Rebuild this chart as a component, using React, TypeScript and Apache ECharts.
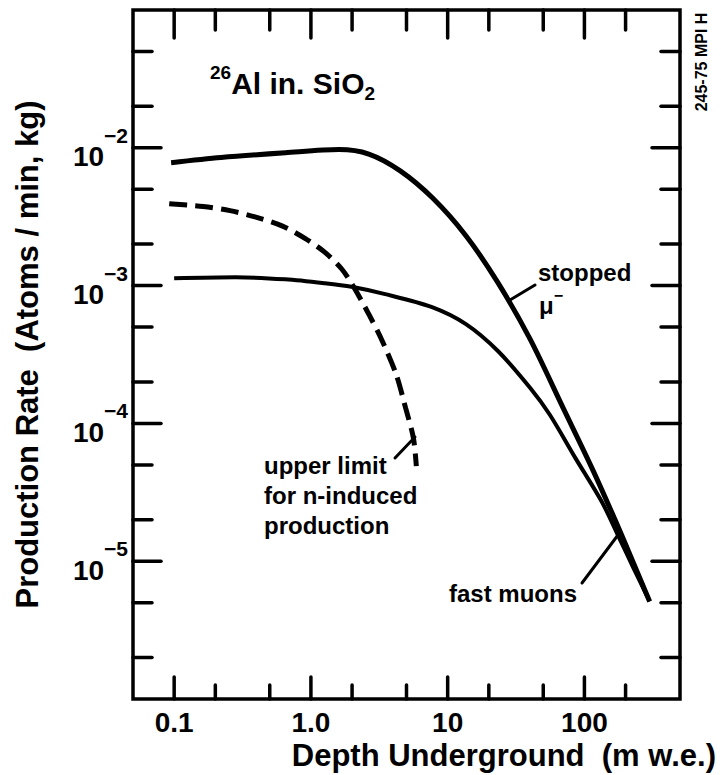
import React, { useEffect, useRef } from "react";
import * as echarts from "echarts";

// Production rate of 26Al in SiO2 versus depth underground
const depthStopped = [0.095, 0.22, 0.65, 1.6, 2.65, 4.5, 7.8, 13.6, 23.3, 40, 70, 114, 166, 196, 300];
const rateStopped = [7.8e-3, 8.5e-3, 9.2e-3, 9.7e-3, 9.0e-3, 6.8e-3, 4.3e-3, 2.3e-3, 1.05e-3, 4.1e-4, 1.29e-4, 4.7e-5, 2.04e-5, 1.39e-5, 5.1e-6];

const depthFast = [0.1, 0.28, 0.65, 1.26, 1.98, 3.43, 7.6, 13.6, 23.4, 40.3, 55.7, 86, 134, 175, 230, 300];
const rateFast = [1.13e-3, 1.15e-3, 1.11e-3, 1.04e-3, 9.8e-4, 8.7e-4, 7.0e-4, 5.25e-4, 3.34e-4, 1.8e-4, 1.16e-4, 5.6e-5, 2.7e-5, 1.56e-5, 8.8e-6, 5.1e-6];

const depthNeutron = [0.092, 0.163, 0.256, 0.39, 0.62, 0.905, 1.26, 1.68, 2.05, 2.65, 3.33, 4.2, 4.93, 5.62, 5.9];
const rateNeutron = [3.92e-3, 3.75e-3, 3.5e-3, 3.15e-3, 2.7e-3, 2.2e-3, 1.75e-3, 1.32e-3, 9.8e-4, 6.2e-4, 3.95e-4, 2.27e-4, 1.29e-4, 7.8e-5, 4.9e-5];

const depthTicks = [0.1, 0.2, 0.5, 1, 2, 5, 10, 20, 50, 100, 200];
const rateTicks = [2e-6, 5e-6, 1e-5, 2e-5, 5e-5, 1e-4, 2e-4, 5e-4, 1e-3, 2e-3, 5e-3, 1e-2, 2e-2, 5e-2];
const depthLabels: Record<string, string> = { "-1": "0.1", "0": "1.0", "1": "10", "2": "100" };
const rateLabelExponents = [-2, -3, -4, -5];

const SANS = "Liberation Sans";
const INK = "#000";

const pairs = (xs: number[], ys: number[]) => xs.map((x, i) => [x, ys[i]]);
const isDecade = (v: number) => Math.abs(Math.log10(v) - Math.round(Math.log10(v))) < 1e-6;

const tickLine = (x1: number, y1: number, x2: number, y2: number) => ({
  type: "line",
  shape: { x1, y1, x2, y2 },
  style: { stroke: INK, lineWidth: 3.5, lineCap: "round" },
});

const annotation = (text: string, x: number, y: number, size = 24) => ({
  type: "text",
  x,
  y,
  style: {
    text,
    fill: INK,
    font: `bold ${size}px "${SANS}"`,
    verticalAlign: "middle",
  },
  silent: true,
});

const leader = (x1: number, y1: number, x2: number, y2: number) => ({
  type: "line",
  shape: { x1, y1, x2, y2 },
  style: { stroke: INK, lineWidth: 3, lineCap: "round" },
  silent: true,
});

export default function App() {
  const ref = useRef<HTMLDivElement>(null);

  useEffect(() => {
    if (!ref.current) return;
    const chart = echarts.init(ref.current, undefined, { renderer: "svg" });

    const option: any = {
      animation: false,
      backgroundColor: "#fff",
      grid: {
        left: 133,
        right: 41,
        top: 10,
        bottom: 76,
        show: true,
        borderColor: INK,
        borderWidth: 3.5,
        backgroundColor: "transparent",
      },
      xAxis: {
        type: "log",
        logBase: 10,
        min: 0.05,
        max: 500,
        axisLine: { show: false },
        axisTick: { show: false },
        splitLine: { show: false },
        axisLabel: {
          margin: 9,
          color: INK,
          fontFamily: SANS,
          fontWeight: "bold",
          fontSize: 28,
          showMinLabel: false,
          showMaxLabel: false,
          formatter: (v: number) => depthLabels[String(Math.round(Math.log10(v)))] ?? "",
        },
        name: "Depth Underground \u00a0(m w.e.)",
        nameLocation: "end",
        nameGap: 36,
        nameTextStyle: {
          color: INK,
          fontFamily: SANS,
          fontWeight: "bold",
          fontSize: 31,
          align: "right",
          verticalAlign: "top",
          padding: [41, 0, 0, 0],
        },
      },
      yAxis: {
        type: "log",
        logBase: 10,
        min: 1e-6,
        max: 1e-1,
        axisLine: { show: false },
        axisTick: { show: false },
        splitLine: { show: false },
        axisLabel: {
          margin: 5,
          showMinLabel: false,
          showMaxLabel: false,
          formatter: (v: number) => {
            const e = Math.round(Math.log10(v));
            return rateLabelExponents.includes(e) ? `{b|10}{s|\u2212${-e}}` : "";
          },
          rich: {
            b: { color: INK, fontFamily: SANS, fontWeight: "bold", fontSize: 28, lineHeight: 46, verticalAlign: "bottom" },
            s: { color: INK, fontFamily: SANS, fontWeight: "bold", fontSize: 21, lineHeight: 21, verticalAlign: "top" },
          },
        },
        name: "Production Rate \u00a0(Atoms / min, kg)",
        nameLocation: "middle",
        nameGap: 90,
        nameTextStyle: {
          color: INK,
          fontFamily: SANS,
          fontWeight: "bold",
          fontSize: 31,
        },
      },
      series: [
        {
          name: "stopped",
          type: "line",
          data: pairs(depthStopped, rateStopped),
          showSymbol: false,
          smooth: 0.3,
          lineStyle: { color: INK, width: 5 },
          silent: true,
        },
        {
          name: "fast",
          type: "line",
          data: pairs(depthFast, rateFast),
          showSymbol: false,
          smooth: 0.3,
          lineStyle: { color: INK, width: 4 },
          silent: true,
        },
        {
          name: "neutron",
          type: "line",
          data: pairs(depthNeutron, rateNeutron),
          showSymbol: false,
          smooth: 0.3,
          lineStyle: { color: INK, width: 5, type: [18, 8] },
          silent: true,
        },
        {
          // depth ticks on the bottom and top frame edges
          type: "custom",
          silent: true,
          clip: false,
          data: depthTicks.map((v) => [v, 1e-3]),
          renderItem: (params: any, api: any) => {
            const v = api.value(0);
            const px = api.coord([v, 1e-3])[0];
            const cs = params.coordSys;
            const major = isDecade(v);
            const bottom = cs.y + cs.height;
            const top = cs.y;
            return {
              type: "group",
              children: [
                tickLine(px, bottom, px, bottom - (major ? 22 : 14)),
                tickLine(px, top, px, top + (major ? 28 : 20)),
              ],
            };
          },
        },
        {
          // rate ticks on the left and right frame edges
          type: "custom",
          silent: true,
          clip: false,
          data: rateTicks.map((v) => [1, v]),
          renderItem: (params: any, api: any) => {
            const v = api.value(1);
            const py = api.coord([1, v])[1];
            const cs = params.coordSys;
            const major = isDecade(v);
            const left = cs.x;
            const right = cs.x + cs.width;
            return {
              type: "group",
              children: [
                tickLine(left, py, left + (major ? 28 : 19), py),
                tickLine(right, py, right - (major ? 28 : 19), py),
              ],
            };
          },
        },
      ],
      graphic: [
        {
          type: "text",
          x: 210,
          y: 83,
          silent: true,
          style: {
            text: "{sup|26}{m|Al in. SiO}{sub|2}",
            verticalAlign: "middle",
            rich: {
              sup: { fill: INK, fontFamily: SANS, fontWeight: "bold", fontSize: 19, lineHeight: 19, verticalAlign: "top" },
              m: { fill: INK, fontFamily: SANS, fontWeight: "bold", fontSize: 30, lineHeight: 40 },
              sub: { fill: INK, fontFamily: SANS, fontWeight: "bold", fontSize: 19, lineHeight: 19, verticalAlign: "bottom" },
            },
          },
        },
        annotation("stopped", 538, 272),
        {
          type: "text",
          x: 539,
          y: 302,
          silent: true,
          style: {
            text: "{m|\u03bc}{s|\u2212}",
            verticalAlign: "middle",
            rich: {
              m: { fill: INK, fontFamily: SANS, fontWeight: "bold", fontSize: 24, lineHeight: 30, verticalAlign: "bottom" },
              s: { fill: INK, fontFamily: SANS, fontWeight: "bold", fontSize: 16, lineHeight: 16, verticalAlign: "top" },
            },
          },
        },
        leader(510, 300, 535, 285),
        annotation("upper limit", 264, 465),
        annotation("for n-induced", 264, 495),
        annotation("production", 264, 525),
        leader(395, 458, 415, 437),
        annotation("fast muons", 449, 593),
        leader(582, 583, 618, 535),
        {
          type: "text",
          x: 701,
          y: 62,
          rotation: Math.PI / 2,
          silent: true,
          style: {
            text: "245-75 MPI H",
            fill: INK,
            font: `bold 16px "${SANS}"`,
            align: "center",
            verticalAlign: "middle",
          },
        },
      ],
    };

    chart.setOption(option);
    return () => chart.dispose();
  }, []);

  return (
    <div
      ref={ref}
      style={{ position: "fixed", left: 0, top: 0, width: 721, height: 775, background: "#fff" }}
    />
  );
}
